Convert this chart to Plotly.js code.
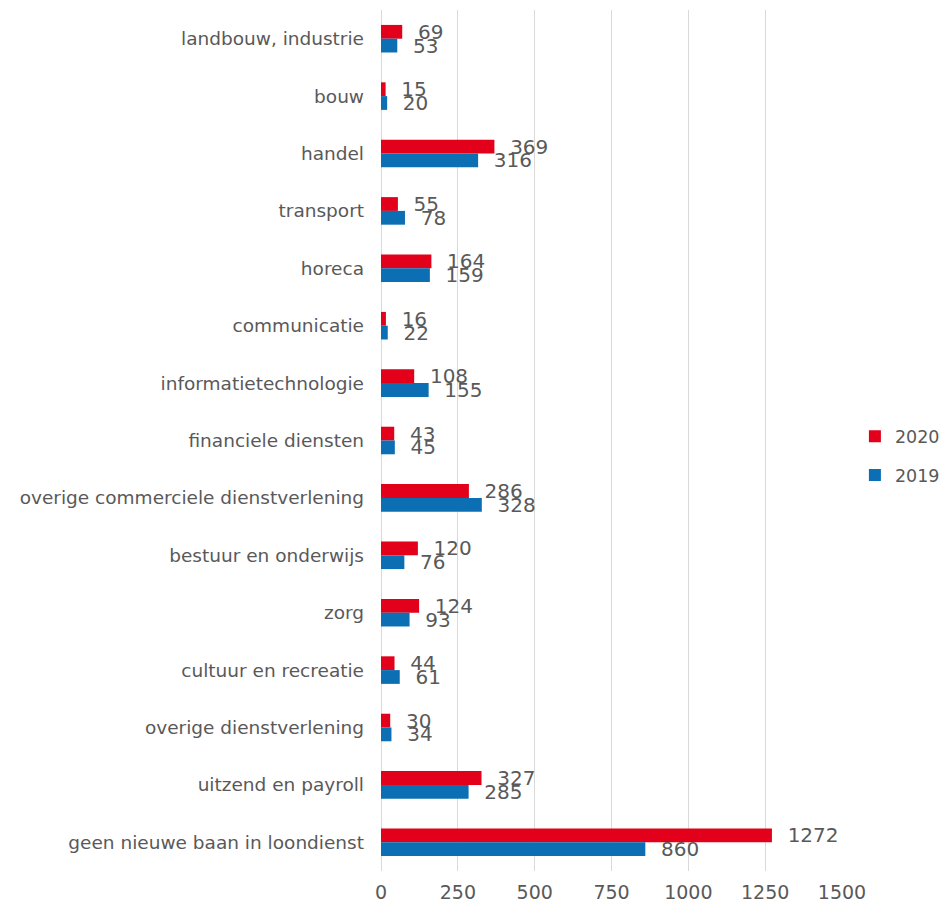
<!DOCTYPE html>
<html><head><meta charset="utf-8">
<script src="https://cdn.plot.ly/plotly-3.0.1.min.js"></script>
<style>html,body{margin:0;padding:0;background:#fff}#chart{width:944px;height:903px}</style>
</head><body><div id="chart"></div>
<script>
const categories = ["landbouw, industrie","bouw","handel","transport","horeca","communicatie","informatietechnologie","financiele diensten","overige commerciele dienstverlening","bestuur en onderwijs","zorg","cultuur en recreatie","overige dienstverlening","uitzend en payroll","geen nieuwe baan in loondienst"];
const values2020 = [69,15,369,55,164,16,108,43,286,120,124,44,30,327,1272];
const values2019 = [53,20,316,78,159,22,155,45,328,76,93,61,34,285,860];
const xTicks = [0,250,500,750,1000,1250,1500];

const font = "DejaVu Sans, Verdana, sans-serif";
const grey = "#595959";
function tr(name, vals, color){
  return {type:"bar", orientation:"h", name:name, legendgroup:name, y:categories, x:vals,
    marker:{color:color},
    text:vals.map(v=>"\u00a0\u00a0"+v), texttemplate:"%{text}", textposition:"outside",
    constraintext:"none", cliponaxis:false,
    textfont:{family:font,size:20,color:grey}, hoverinfo:"x+y"};
}
const data=[tr("2020",values2020,"#E2001A"), tr("2019",values2019,"#0C6FB4")];
const layout={
  width:944,height:903,margin:{l:381,r:102,t:10,b:32,autoexpand:false},
  paper_bgcolor:"#fff",plot_bgcolor:"#fff",
  barmode:"group",bargap:0.52,bargroupgap:0,
  font:{family:font,color:grey},
  xaxis:{range:[0,1500],tickvals:xTicks,ticktext:xTicks.map(String),showgrid:true,gridcolor:"#D9D9D9",gridwidth:1,
    zeroline:true,zerolinecolor:"#D9D9D9",zerolinewidth:1,showline:false,tickfont:{family:font,size:19,color:grey},ticklabelstandoff:8,fixedrange:true,automargin:false},
  yaxis:{type:"category",autorange:"reversed",tickfont:{family:font,size:18.5,color:grey},ticklabelstandoff:16,showgrid:false,zeroline:false,showline:false,automargin:false},
  showlegend:true,
  legend:{x:1.028,xanchor:"left",y:0.482,yanchor:"middle",font:{family:font,size:17.5,color:grey},traceorder:"grouped",itemwidth:30,tracegroupgap:13}
};
Plotly.newPlot("chart",data,layout,{displayModeBar:false,staticPlot:true});
</script></body></html>
